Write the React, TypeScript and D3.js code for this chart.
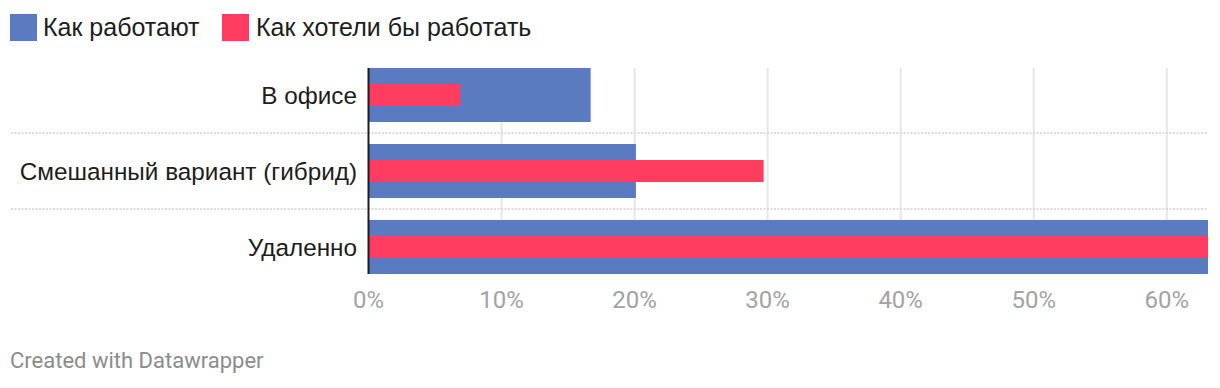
import React from "react";
import * as d3 from "d3";

const categories = ["В офисе", "Смешанный вариант (гибрид)", "Удаленно"];
const seriesNames = ["Как работают", "Как хотели бы работать"];
const currentValues = [16.7, 20.1, 63.1];
const desiredValues = [6.9, 29.7, 63.1];
const xTicks = [0, 10, 20, 30, 40, 50, 60];
const colors = ["#5b7bc0", "#ff3d61"];

const W = 1220;
const H = 388;

export default function App() {
  const x = d3.scaleLinear().domain([0, 63.1]).range([368.5, 1208]);
  const y = d3
    .scaleBand<string>()
    .domain(categories)
    .range([57, 285])
    .paddingInner(22 / 76)
    .paddingOuter(11 / 76);
  const bw = y.bandwidth();
  const redH = 22;
  const sans = "'Liberation Sans', Arial, Helvetica, sans-serif";
  const roboto = "Roboto, 'Noto Sans', sans-serif";

  return (
    <svg
      width={W}
      height={H}
      style={{ position: "absolute", left: 0, top: 0, background: "#fff" }}
    >
      {/* legend */}
      <g fontFamily={sans} fontSize={25} fill="#1d1d1d">
        <rect x={10} y={14} width={27} height={27} fill={colors[0]} />
        <text x={43} y={36}>
          {seriesNames[0]}
        </text>
        <rect x={222} y={14} width={27} height={27} fill={colors[1]} />
        <text x={256} y={36}>
          {seriesNames[1]}
        </text>
      </g>

      {/* vertical gridlines */}
      {xTicks.slice(1).map((t) => (
        <line
          key={"g" + t}
          x1={x(t)}
          x2={x(t)}
          y1={68}
          y2={274}
          stroke="#e6e6e6"
          strokeWidth={2}
        />
      ))}

      {/* separators */}
      {categories.slice(0, -1).map((c) => {
        const yy = (y(c) as number) + bw + 11;
        return (
          <line
            key={"s" + c}
            x1={11}
            x2={1208}
            y1={yy}
            y2={yy}
            stroke="#d0d0d0"
            strokeWidth={1.6}
            strokeDasharray="2,1.5"
          />
        );
      })}

      {/* bars */}
      {categories.map((c, i) => {
        const y0 = y(c) as number;
        const mid = y0 + bw / 2;
        return (
          <g key={"b" + c}>
            <rect
              x={x(0)}
              y={y0}
              width={x(currentValues[i]) - x(0)}
              height={bw}
              fill={colors[0]}
            />
            <rect
              x={x(0)}
              y={mid - redH / 2}
              width={x(desiredValues[i]) - x(0)}
              height={redH}
              fill={colors[1]}
            />
            <text
              x={357}
              y={mid + 9}
              textAnchor="end"
              fontSize={24.3}
              fontFamily={sans}
              fill="#1d1d1d"
            >
              {c}
            </text>
          </g>
        );
      })}

      {/* axis line */}
      <line x1={368.5} x2={368.5} y1={68} y2={274} stroke="#1d1d1d" strokeWidth={2} />

      {/* tick labels */}
      {xTicks.map((t) => (
        <text
          key={"t" + t}
          x={x(t)}
          y={308}
          textAnchor="middle"
          fontSize={24}
          fontFamily={roboto}
          fill="#a3a3a3"
        >
          {t + "%"}
        </text>
      ))}

      {/* footer */}
      <text x={10} y={368} fontSize={22} fontFamily={roboto} fill="#8c8c8c">
        Created with Datawrapper
      </text>
    </svg>
  );
}
